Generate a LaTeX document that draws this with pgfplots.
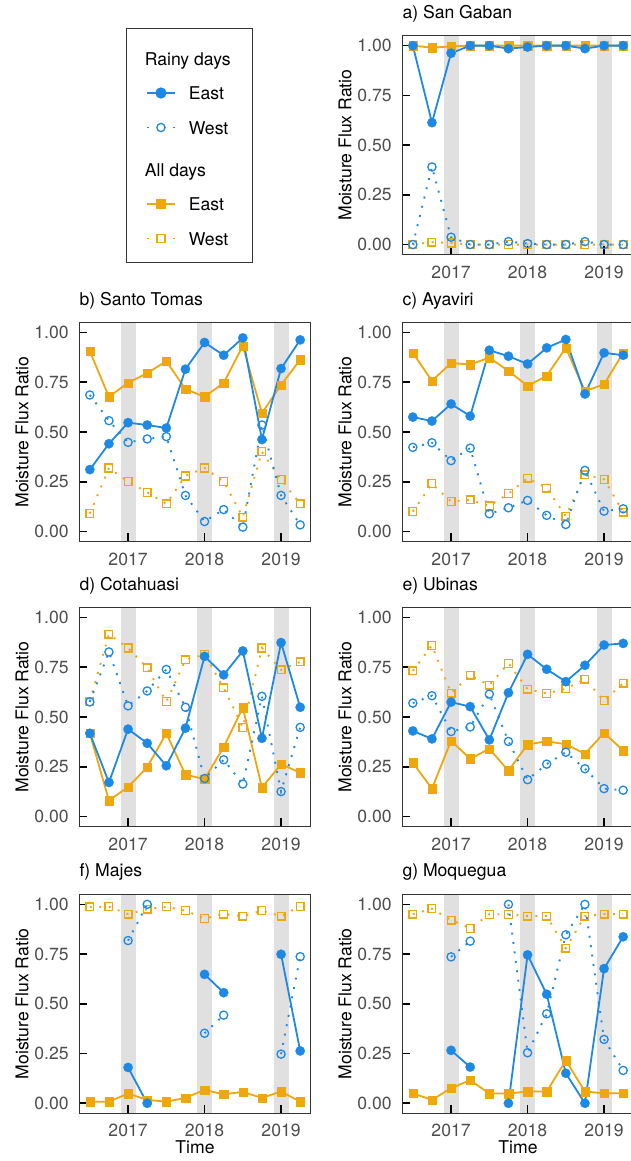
\documentclass[border=0pt]{standalone}
\usepackage{fontspec}
\setmainfont{TeX Gyre Heros}
\usepackage{pgfplots}
\usepackage{pgfplotstable}
\pgfplotsset{compat=1.18}
\definecolor{blueC}{RGB}{30,136,229}
\definecolor{orangeC}{RGB}{238,167,12}
\definecolor{bandC}{RGB}{224,224,224}
\definecolor{tickC}{RGB}{77,77,77}
\definecolor{frameC}{RGB}{51,51,51}
\newcommand\myfont{\fontsize{17.6}{21}\selectfont}

\pgfplotstableread{
x rE rW aE aW
2016.5  1.00  0.00  1.00  0.00
2016.75 0.613 0.39  0.99  0.012
2017    0.962 0.037 0.996 0.008
2017.25 1.00  0.00  1.00  0.00
2017.5  1.00  0.00  1.00  0.00
2017.75 0.985 0.015 1.00  0.00
2018    0.993 0.005 1.00  0.00
2018.25 1.00  0.00  1.00  0.00
2018.5  1.00  0.00  1.00  0.00
2018.75 0.985 0.015 1.00  0.00
2019    1.00  0.00  1.00  0.00
2019.25 1.00  0.00  1.00  0.00
}\tabA
\pgfplotstableread{
x rE rW aE aW
2016.5  0.311 0.686 0.906 0.09
2016.75 0.441 0.557 0.677 0.319
2017    0.547 0.448 0.747 0.251
2017.25 0.535 0.465 0.796 0.197
2017.5  0.52  0.477 0.856 0.139
2017.75 0.816 0.181 0.716 0.279
2018    0.95  0.05  0.677 0.319
2018.25 0.886 0.11  0.747 0.251
2018.5  0.973 0.022 0.933 0.072
2018.75 0.462 0.535 0.595 0.401
2019    0.819 0.181 0.737 0.261
2019.25 0.963 0.033 0.863 0.139
}\tabB
\pgfplotstableread{
x rE rW aE aW
2016.5  0.575 0.423 0.898 0.10
2016.75 0.555 0.446 0.757 0.24
2017    0.641 0.356 0.847 0.151
2017.25 0.58  0.419 0.839 0.159
2017.5  0.911 0.089 0.874 0.128
2017.75 0.881 0.119 0.807 0.19
2018    0.842 0.156 0.732 0.268
2018.25 0.923 0.081 0.782 0.218
2018.5  0.965 0.035 0.923 0.077
2018.75 0.691 0.307 0.705 0.285
2019    0.898 0.102 0.74  0.262
2019.25 0.886 0.114 0.898 0.097
}\tabC
\pgfplotstableread{
x rE rW aE aW
2016.5  0.418 0.576 0.418 0.579
2016.75 0.171 0.827 0.08  0.917
2017    0.439 0.556 0.148 0.847
2017.25 0.368 0.631 0.248 0.747
2017.5  0.255 0.739 0.418 0.577
2017.75 0.444 0.549 0.21  0.787
2018    0.805 0.191 0.188 0.814
2018.25 0.712 0.285 0.349 0.647
2018.5  0.832 0.163 0.547 0.448
2018.75 0.393 0.604 0.145 0.847
2019    0.874 0.125 0.263 0.737
2019.25 0.549 0.448 0.22  0.777
}\tabD
\pgfplotstableread{
x rE rW aE aW
2016.5  0.43  0.57  0.27  0.732
2016.75 0.39  0.607 0.14  0.86
2017    0.575 0.427 0.38  0.62
2017.25 0.552 0.45  0.29  0.71
2017.5  0.385 0.615 0.34  0.66
2017.75 0.622 0.377 0.23  0.77
2018    0.815 0.185 0.362 0.64
2018.25 0.74  0.263 0.378 0.618
2018.5  0.678 0.323 0.363 0.642
2018.75 0.76  0.24  0.315 0.69
2019    0.862 0.14  0.42  0.582
2019.25 0.87  0.132 0.332 0.67
}\tabE
\pgfplotstableread{
x rE rW aE aW
2016.5  nan   nan   0.008 0.987
2016.75 nan   nan   0.008 0.988
2017    0.18  0.818 0.049 0.951
2017.25 0.0   1.0   0.017 0.976
2017.5  nan   nan   0.008 0.988
2017.75 nan   nan   0.027 0.968
2018    0.648 0.352 0.067 0.929
2018.25 0.556 0.443 0.045 0.951
2018.5  nan   nan   0.057 0.941
2018.75 nan   nan   0.027 0.968
2019    0.749 0.247 0.059 0.941
2019.25 0.263 0.737 0.008 0.99
}\tabF
\pgfplotstableread{
x rE rW aE aW
2016.5  nan   nan   0.05  0.951
2016.75 nan   nan   0.017 0.978
2017    0.266 0.736 0.076 0.921
2017.25 0.182 0.815 0.116 0.879
2017.5  nan   nan   0.049 0.95
2017.75 0.0   1.0   0.049 0.95
2018    0.746 0.254 0.059 0.941
2018.25 0.548 0.45  0.059 0.941
2018.5  0.151 0.847 0.215 0.78
2018.75 0.0   1.0   0.059 0.941
2019    0.677 0.321 0.05  0.951
2019.25 0.837 0.165 0.05  0.951
}\tabG

\pgfplotsset{
  panel/.style={
    scale only axis, width=231.4pt, height=218.8pt, anchor=north west,
    xmin=2016.3625, xmax=2019.3875, ymin=-0.05, ymax=1.05,
    xtick={2017,2018,2019}, xticklabels={2017,2018,2019},
    ytick={0,0.25,0.5,0.75,1}, yticklabels={0.00,0.25,0.50,0.75,1.00},
    tick align=inside, tick pos=left, major tick length=8pt,
    every tick/.style={black, line width=1.6pt},
    axis line style={frameC, line width=1pt},
    tick label style={font=\myfont, text=tickC, inner sep=0pt},
    yticklabel style={anchor=east, xshift=-10.5pt},
    xticklabel style={anchor=north, yshift=-11pt},
    label style={font=\myfont},
    ylabel={Moisture Flux Ratio},
    ylabel style={at={(rel axis cs:-0.2204,0.5)}, anchor=base, inner sep=0pt},
    title style={at={(rel axis cs:0,1)}, anchor=base west, yshift=11.5pt, font=\myfont, inner sep=0pt},
    axis on top, unbounded coords=jump,
  },
  timelabel/.style={xlabel={Time}, xlabel style={at={(rel axis cs:0.5,0)}, anchor=base, yshift=-40pt, inner sep=0pt}},
  solidL/.style={line width=1.8pt, no markers},
  dotL/.style={line width=1.9pt, no markers, dash pattern=on 1.9pt off 7.6pt},
  rEm/.style={only marks, mark=*, mark size=4.7pt, color=blueC, mark options={solid, fill=blueC, draw=blueC, line width=0.2pt}},
  rWm/.style={only marks, mark=o, mark size=4.1pt, color=blueC, mark options={solid, fill=white, line width=1.3pt}},
  aEm/.style={only marks, mark=square*, mark size=4.2pt, color=orangeC, mark options={solid, fill=orangeC, line width=0.2pt}},
  aWm/.style={only marks, mark=square, mark size=3.9pt, color=orangeC, mark options={solid, fill=white, line width=1.3pt}},
}

\newcommand{\panel}[5]{%
\begin{axis}[panel, at={(#3pt,-#4pt)}, title={#2}, #5]
  \addplot[fill=bandC, draw=none, forget plot] coordinates {(2016.908,-1) (2017.1,-1) (2017.1,2) (2016.908,2)} -- cycle;
  \addplot[fill=bandC, draw=none, forget plot] coordinates {(2017.904,-1) (2018.097,-1) (2018.097,2) (2017.904,2)} -- cycle;
  \addplot[fill=bandC, draw=none, forget plot] coordinates {(2018.904,-1) (2019.1,-1) (2019.1,2) (2018.904,2)} -- cycle;
  \addplot[orangeC, dotL] table[x=x, y=aW] {#1};
  \addplot[orangeC, solidL] table[x=x, y=aE] {#1};
  \addplot[blueC, dotL] table[x=x, y=rW] {#1};
  \addplot[blueC, solidL] table[x=x, y=rE] {#1};
  \addplot[aWm] table[x=x, y=aW] {#1};
  \addplot[aEm] table[x=x, y=aE] {#1};
  \addplot[rWm] table[x=x, y=rW] {#1};
  \addplot[rEm] table[x=x, y=rE] {#1};
\end{axis}}

\begin{document}
\begin{tikzpicture}
\path[use as bounding box] (0pt,0pt) rectangle (631pt,-1161pt);

% legend
\draw[frameC, line width=1pt] (126pt,-29pt) rectangle (252pt,-262pt);
\begin{axis}[hide axis, scale only axis, width=10pt, height=10pt, at={(146pt,-52pt)}, anchor=north west,
  xmin=0, xmax=1, ymin=0, ymax=1,
  legend cell align=left,
  legend style={at={(0,1)}, anchor=north west, draw=none, fill=none, inner sep=0pt, outer sep=0pt,
    row sep=21.5pt, column sep=13pt, font=\myfont,
    nodes={inner sep=0pt, text depth=0pt}},
  legend image code/.code={\draw[mark repeat=2, mark phase=2, #1] plot coordinates {(0pt,0pt) (14pt,0pt) (28pt,0pt)};}]
  \addlegendimage{empty legend}
  \addlegendentry{\hspace{-44pt}\rule{0pt}{13pt}Rainy days}
  \addlegendimage{blueC, line width=1.8pt, mark=*, mark size=4.7pt, mark options={solid, fill=blueC}}
  \addlegendentry{\rule{0pt}{13pt}East}
  \addlegendimage{blueC, line width=1.9pt, dash pattern=on 1.9pt off 24.3pt, mark=o, mark size=4.1pt, mark options={solid, fill=white, line width=1.3pt}}
  \addlegendentry{\rule{0pt}{13pt}West}
  \addlegendimage{empty legend}
  \addlegendentry{\hspace{-44pt}\rule{0pt}{20.5pt}All days}
  \addlegendimage{orangeC, line width=1.8pt, mark=square*, mark size=4.2pt, mark options={solid, fill=orangeC}}
  \addlegendentry{\rule{0pt}{13pt}East}
  \addlegendimage{orangeC, line width=1.9pt, dash pattern=on 1.9pt off 24.3pt, mark=square, mark size=3.9pt, mark options={solid, fill=white, line width=1.3pt}}
  \addlegendentry{\rule{0pt}{13pt}West}
\end{axis}

\panel{\tabA}{a) San Gaban}{402.3}{35.7}{}
\panel{\tabB}{b) Santo Tomas}{79.3}{322.6}{}
\panel{\tabC}{c) Ayaviri}{402.3}{322.6}{}
\panel{\tabD}{d) Cotahuasi}{79.3}{607.6}{}
\panel{\tabE}{e) Ubinas}{402.3}{607.6}{}
\panel{\tabF}{f) Majes}{79.3}{894.4}{timelabel}
\panel{\tabG}{g) Moquegua}{402.3}{894.4}{timelabel}
\end{tikzpicture}
\end{document}
